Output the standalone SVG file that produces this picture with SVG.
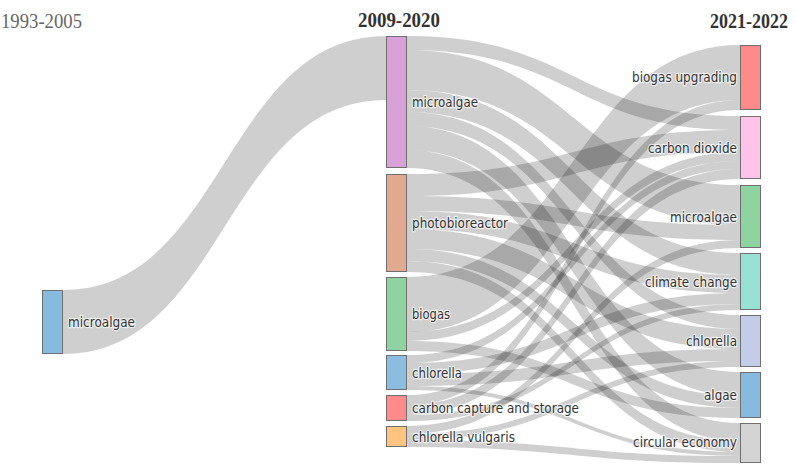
<svg xmlns="http://www.w3.org/2000/svg" width="796" height="469" viewBox="0 0 796 469">
<style>
.lk{fill:#000;fill-opacity:0.19;stroke:none}
.nd{stroke:#6f6f6f;stroke-width:1}
.lb{font-family:"DejaVu Sans","Liberation Sans",sans-serif;font-size:14px;fill:#333;stroke:#fff;stroke-width:2.5;stroke-opacity:0.7;paint-order:stroke;stroke-linejoin:round}
.r{text-anchor:end}
.tt{font-family:"Liberation Serif","Times New Roman",serif;font-size:20px}
</style>
<rect width="796" height="469" fill="#fff"/>
<text class="tt" x="1" y="28" fill="#666" textLength="81" lengthAdjust="spacingAndGlyphs">1993-2005</text>
<text class="tt" x="358" y="27" fill="#333" font-weight="bold" textLength="82" lengthAdjust="spacingAndGlyphs">2009-2020</text>
<text class="tt" x="710" y="28" fill="#333" font-weight="bold" textLength="78" lengthAdjust="spacingAndGlyphs">2021-2022</text>
<g id="links">
<path class="lk" d="M63 290 C224.5 290 224.5 36 386 36 L386 100 C224.5 100 224.5 354 63 354 Z"/>
<path class="lk" d="M407 36 C573.5 36 573.5 116 740 116 L740 130 C573.5 130 573.5 50 407 50 Z"/>
<path class="lk" d="M407 50 C573.5 50 573.5 185 740 185 L740 225 C573.5 225 573.5 90 407 90 Z"/>
<path class="lk" d="M407 90 C573.5 90 573.5 253 740 253 L740 275 C573.5 275 573.5 112 407 112 Z"/>
<path class="lk" d="M407 112 C573.5 112 573.5 315 740 315 L740 329 C573.5 329 573.5 126 407 126 Z"/>
<path class="lk" d="M407 126 C573.5 126 573.5 372 740 372 L740 396 C573.5 396 573.5 150 407 150 Z"/>
<path class="lk" d="M407 150 C573.5 150 573.5 423 740 423 L740 441 C573.5 441 573.5 168 407 168 Z"/>
<path class="lk" d="M407 174 C573.5 174 573.5 130 740 130 L740 152 C573.5 152 573.5 196 407 196 Z"/>
<path class="lk" d="M407 196 C573.5 196 573.5 225 740 225 L740 240 C573.5 240 573.5 211 407 211 Z"/>
<path class="lk" d="M407 211 C573.5 211 573.5 275 740 275 L740 293 C573.5 293 573.5 229 407 229 Z"/>
<path class="lk" d="M407 229 C573.5 229 573.5 329 740 329 L740 349 C573.5 349 573.5 249 407 249 Z"/>
<path class="lk" d="M407 249 C573.5 249 573.5 396 740 396 L740 408 C573.5 408 573.5 261 407 261 Z"/>
<path class="lk" d="M407 261 C573.5 261 573.5 441 740 441 L740 452 C573.5 452 573.5 272 407 272 Z"/>
<path class="lk" d="M407 277 C573.5 277 573.5 45 740 45 L740 100 C573.5 100 573.5 332 407 332 Z"/>
<path class="lk" d="M407 332 C573.5 332 573.5 152 740 152 L740 161 C573.5 161 573.5 341 407 341 Z"/>
<path class="lk" d="M407 341 C573.5 341 573.5 408 740 408 L740 418 C573.5 418 573.5 351 407 351 Z"/>
<path class="lk" d="M407 355 C573.5 355 573.5 161 740 161 L740 169 C573.5 169 573.5 363 407 363 Z"/>
<path class="lk" d="M407 363 C573.5 363 573.5 293 740 293 L740 304 C573.5 304 573.5 374 407 374 Z"/>
<path class="lk" d="M407 374 C573.5 374 573.5 349 740 349 L740 361 C573.5 361 573.5 386 407 386 Z"/>
<path class="lk" d="M407 386 C573.5 386 573.5 452 740 452 L740 456 C573.5 456 573.5 390 407 390 Z"/>
<path class="lk" d="M407 395 C573.5 395 573.5 100 740 100 L740 110 C573.5 110 573.5 405 407 405 Z"/>
<path class="lk" d="M407 405 C573.5 405 573.5 169 740 169 L740 179 C573.5 179 573.5 415 407 415 Z"/>
<path class="lk" d="M407 415 C573.5 415 573.5 304 740 304 L740 310 C573.5 310 573.5 421 407 421 Z"/>
<path class="lk" d="M407 426 C573.5 426 573.5 240 740 240 L740 248 C573.5 248 573.5 434 407 434 Z"/>
<path class="lk" d="M407 434 C573.5 434 573.5 361 740 361 L740 367 C573.5 367 573.5 440 407 440 Z"/>
<path class="lk" d="M407 440 C573.5 440 573.5 456 740 456 L740 463 C573.5 463 573.5 447 407 447 Z"/>
</g>
<g id="n-left-microalgae"><rect class="nd" x="42.5" y="290.5" width="20" height="63" fill="#86bbdf"/><text class="lb" x="68" y="327" textLength="67" lengthAdjust="spacingAndGlyphs">microalgae</text></g>
<g id="n-mid-microalgae"><rect class="nd" x="386.5" y="36.5" width="20" height="131" fill="#d8a2d9"/><text class="lb" x="412" y="107" textLength="66" lengthAdjust="spacingAndGlyphs">microalgae</text></g>
<g id="n-mid-photobioreactor"><rect class="nd" x="386.5" y="174.5" width="20" height="97" fill="#e2a991"/><text class="lb" x="412" y="228" textLength="96" lengthAdjust="spacingAndGlyphs">photobioreactor</text></g>
<g id="n-mid-biogas"><rect class="nd" x="386.5" y="277.5" width="20" height="73" fill="#8ed3a0"/><text class="lb" x="412" y="319" textLength="38" lengthAdjust="spacingAndGlyphs">biogas</text></g>
<g id="n-mid-chlorella"><rect class="nd" x="386.5" y="355.5" width="20" height="34" fill="#8bbde0"/><text class="lb" x="412" y="378" textLength="50" lengthAdjust="spacingAndGlyphs">chlorella</text></g>
<g id="n-mid-ccs"><rect class="nd" x="386.5" y="395.5" width="20" height="25" fill="#ff8b8b"/><text class="lb" x="412" y="413" textLength="167" lengthAdjust="spacingAndGlyphs">carbon capture and storage</text></g>
<g id="n-mid-chlorella-vulgaris"><rect class="nd" x="386.5" y="426.5" width="20" height="20" fill="#ffc47f"/><text class="lb" x="412" y="442" textLength="103" lengthAdjust="spacingAndGlyphs">chlorella vulgaris</text></g>
<g id="n-r-biogas-upgrading"><rect class="nd" x="740.5" y="45.5" width="20" height="64" fill="#ff8a8a"/><text class="lb r" x="737" y="82" textLength="105" lengthAdjust="spacingAndGlyphs">biogas upgrading</text></g>
<g id="n-r-carbon-dioxide"><rect class="nd" x="740.5" y="116.5" width="20" height="62" fill="#ffc3ea"/><text class="lb r" x="737" y="153" textLength="89" lengthAdjust="spacingAndGlyphs">carbon dioxide</text></g>
<g id="n-r-microalgae"><rect class="nd" x="740.5" y="185.5" width="20" height="62" fill="#8ed3a0"/><text class="lb r" x="737" y="222" textLength="67" lengthAdjust="spacingAndGlyphs">microalgae</text></g>
<g id="n-r-climate-change"><rect class="nd" x="740.5" y="253.5" width="20" height="56" fill="#97e2d2"/><text class="lb r" x="737" y="287" textLength="92" lengthAdjust="spacingAndGlyphs">climate change</text></g>
<g id="n-r-chlorella"><rect class="nd" x="740.5" y="315.5" width="20" height="51" fill="#c3cdea"/><text class="lb r" x="737" y="346" textLength="51" lengthAdjust="spacingAndGlyphs">chlorella</text></g>
<g id="n-r-algae"><rect class="nd" x="740.5" y="372.5" width="20" height="45" fill="#86bbdf"/><text class="lb r" x="737" y="400" textLength="33" lengthAdjust="spacingAndGlyphs">algae</text></g>
<g id="n-r-circular-economy"><rect class="nd" x="740.5" y="423.5" width="20" height="39" fill="#d4d4d4"/><text class="lb r" x="737" y="447" textLength="104" lengthAdjust="spacingAndGlyphs">circular economy</text></g>
</svg>
